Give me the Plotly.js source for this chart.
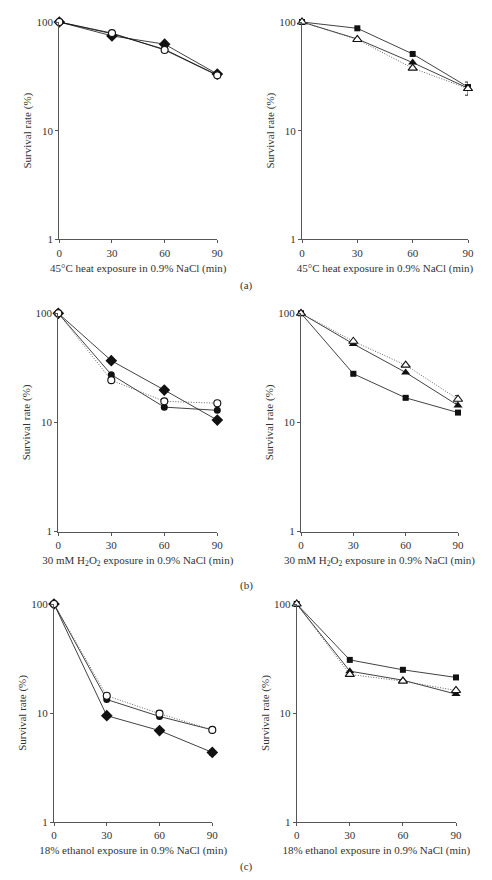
<!DOCTYPE html>
<html>
<head>
<meta charset="utf-8">
<script src="https://cdn.plot.ly/plotly-3.0.1.min.js"></script>
<style>html,body{margin:0;padding:0;background:#fff;}#chart{width:492px;height:880px;}</style>
</head>
<body>
<div id="chart"></div>
<script>
// ---- data ----
const minutes = [0, 30, 60, 90];
const xTickVals = [0, 30, 60, 90];
const yTickVals = [1, 10, 100];
const yTickText = ["1", "10", "100"];
const panelLabels = ["(a)", "(b)", "(c)"];

const xTitleHeat = "45°C heat exposure in 0.9% NaCl (min)";
const xTitleH2O2 = "30 mM H<sub>2</sub>O<sub>2</sub> exposure in 0.9% NaCl (min)";
const xTitleEthanol = "18% ethanol exposure in 0.9% NaCl (min)";
const yTitle = "Survival rate (%)";

// (a) heat, left panel
const heatLeftFilledCircle = [100, 78, 56, 32.5];
const heatLeftFilledDiamond = [100, 74.5, 62.5, 33.2];
const heatLeftOpenCircle = [100, 79, 55.3, 32.3];
// (a) heat, right panel
const heatRightFilledSquare = [100, 87.5, 50.8, 25.2];
const heatRightFilledTriangle = [100, 69.8, 42.3, 24.6];
const heatRightOpenTriangle = [100, 69, 37.6, 24.4];
const heatRightOpenTriangleErrUp = [0, 0, 0, 3.6];
const heatRightOpenTriangleErrDown = [0, 0, 0, 3.2];

// (b) H2O2, left panel
const h2o2LeftFilledCircle = [100, 27.4, 13.8, 12.9];
const h2o2LeftFilledDiamond = [100, 36.8, 19.8, 10.5];
const h2o2LeftOpenCircle = [100, 24.4, 15.6, 15.0];
// (b) H2O2, right panel
const h2o2RightFilledSquare = [100, 27.9, 16.8, 12.3];
const h2o2RightFilledSquareErr = [0, 0.6, 0.5, 0.3];
const h2o2RightFilledTriangle = [100, 52.4, 28.7, 14.3];
const h2o2RightOpenTriangle = [100, 55.4, 33.5, 16.3];
const h2o2RightOpenTriangleErr = [0, 0, 0, 1.3];

// (c) ethanol, left panel
const ethLeftFilledCircle = [100, 13.3, 9.3, 7.0];
const ethLeftFilledDiamond = [100, 9.45, 6.9, 4.35];
const ethLeftFilledDiamondErr = [0, 0, 0, 0.25];
const ethLeftOpenCircle = [100, 14.4, 9.86, 7.0];
const ethLeftOpenCircleErr = [0, 0, 0.6, 0];
// (c) ethanol, right panel
const ethRightFilledSquare = [100, 30.7, 24.9, 21.2];
const ethRightFilledTriangle = [100, 24.2, 20.0, 14.9];
const ethRightOpenTriangle = [100, 22.6, 19.6, 16.1];

// ---- build ----
const INK = "#111";
function series(ax, y, symbol, size, dotted, errUp, errDown) {
  const open = symbol.indexOf("open") >= 0;
  const t = {
    type: "scatter", mode: "lines+markers",
    x: minutes, y: y,
    xaxis: "x" + ax, yaxis: "y" + ax,
    cliponaxis: false,
    line: {color: dotted ? "#555" : INK, width: dotted ? 0.9 : 0.8, dash: dotted ? "1px,1.6px" : "solid"},
    marker: {symbol: open ? symbol.replace("-open", "") : symbol, size: size,
      color: open ? "#fff" : INK, line: {color: INK, width: open ? 1.1 : 0}},
    showlegend: false, hoverinfo: "skip"
  };
  if (errUp) {
    t.error_y = {type: "data", symmetric: !errDown, array: errUp,
      arrayminus: errDown || errUp, color: INK, thickness: 0.9, width: 3};
  }
  return t;
}

const traces = [
  series("", heatLeftFilledCircle, "circle", 7, false),
  series("", heatLeftFilledDiamond, "diamond", 9, false),
  series("", heatLeftOpenCircle, "circle-open", 7, false),

  series("2", heatRightFilledSquare, "square", 6, false),
  series("2", heatRightFilledTriangle, "triangle-up", 8, false),
  series("2", heatRightOpenTriangle, "triangle-up-open", 8, true, heatRightOpenTriangleErrUp, heatRightOpenTriangleErrDown),

  series("3", h2o2LeftFilledCircle, "circle", 7, false),
  series("3", h2o2LeftFilledDiamond, "diamond", 9, false),
  series("3", h2o2LeftOpenCircle, "circle-open", 7, true),

  series("4", h2o2RightFilledSquare, "square", 6, false, h2o2RightFilledSquareErr),
  series("4", h2o2RightFilledTriangle, "triangle-up", 8, false),
  series("4", h2o2RightOpenTriangle, "triangle-up-open", 8, true, h2o2RightOpenTriangleErr),

  series("5", ethLeftFilledCircle, "circle", 7, false),
  series("5", ethLeftFilledDiamond, "diamond", 9, false, ethLeftFilledDiamondErr),
  series("5", ethLeftOpenCircle, "circle-open", 7, true, ethLeftOpenCircleErr),

  series("6", ethRightFilledSquare, "square", 6, false),
  series("6", ethRightFilledTriangle, "triangle-up", 8, false),
  series("6", ethRightOpenTriangle, "triangle-up-open", 8, true)
];

const W = 492, H = 880;
const FONT = {family: "Liberation Serif, Times New Roman, serif", size: 11, color: "#333"};
function xd(a, b) { return [a / W, b / W]; }
function yd(top, bottom) { return [1 - bottom / H, 1 - top / H]; }

function xAxis(domain, anchor, title) {
  return {domain: domain, anchor: anchor, range: [0, 90], tickvals: xTickVals,
    ticks: "outside", ticklen: 3, tickwidth: 1, tickcolor: "#555",
    showline: true, linecolor: "#555", linewidth: 1, mirror: false,
    showgrid: false, zeroline: false, tickfont: FONT,
    title: {text: title, font: FONT, standoff: 6}, fixedrange: true};
}
function yAxis(domain, anchor) {
  return {domain: domain, anchor: anchor, type: "log", range: [0, 2],
    tickvals: yTickVals, ticktext: yTickText,
    ticks: "outside", ticklen: 3, tickwidth: 1, tickcolor: "#555",
    showline: true, linecolor: "#555", linewidth: 1,
    showgrid: false, zeroline: false, tickfont: FONT,
    title: {text: yTitle, font: FONT, standoff: 2}, fixedrange: true};
}

const layout = {
  width: W, height: H,
  margin: {l: 0, r: 0, t: 0, b: 0},
  paper_bgcolor: "#fff", plot_bgcolor: "#fff",
  showlegend: false,
  font: FONT,
  xaxis: xAxis(xd(59.3, 217.3), "y", xTitleHeat),
  yaxis: yAxis(yd(22, 239.3), "x"),
  xaxis2: xAxis(xd(302, 468), "y2", xTitleHeat),
  yaxis2: yAxis(yd(22, 239.3), "x2"),
  xaxis3: xAxis(xd(58.3, 217.3), "y3", xTitleH2O2),
  yaxis3: yAxis(yd(313.3, 531.5), "x3"),
  xaxis4: xAxis(xd(301, 458), "y4", xTitleH2O2),
  yaxis4: yAxis(yd(313.3, 531.5), "x4"),
  xaxis5: xAxis(xd(54, 212.3), "y5", xTitleEthanol),
  yaxis5: yAxis(yd(604, 822), "x5"),
  xaxis6: xAxis(xd(296.7, 456), "y6", xTitleEthanol),
  yaxis6: yAxis(yd(604, 822), "x6"),
  annotations: [
    {text: panelLabels[0], x: 246 / W, y: 1 - 285 / H},
    {text: panelLabels[1], x: 246 / W, y: 1 - 585.5 / H},
    {text: panelLabels[2], x: 246 / W, y: 1 - 866 / H}
  ].map(a => Object.assign(a, {xref: "paper", yref: "paper", showarrow: false,
    xanchor: "center", yanchor: "middle", font: FONT}))
};

Plotly.newPlot("chart", traces, layout, {staticPlot: true, displayModeBar: false});
</script>
</body>
</html>
